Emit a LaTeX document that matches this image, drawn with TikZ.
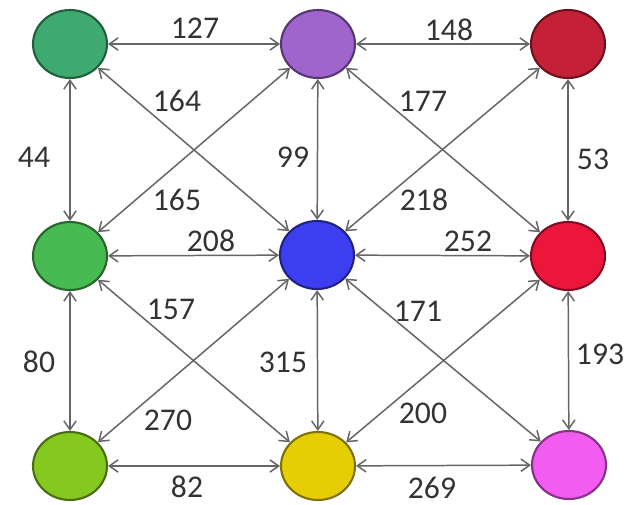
\documentclass[tikz,border=0pt]{standalone}
\usepackage{fontspec}
\setmainfont{Carlito}
\usetikzlibrary{arrows.meta,shapes.geometric,positioning}
\tikzset{every picture/.style={line width=0.75pt}}
\tikzset{
  city/.style={ellipse, draw, line width=1.2pt, minimum width=1.48cm, minimum height=1.36cm, inner sep=0pt},
  link/.style={draw=black!60, line width=0.85pt, {Straight Barb[length=5pt,width=7pt]}-{Straight Barb[length=5pt,width=7pt]}},
  lbl/.style={font=\fontsize{18}{20}\selectfont, text=black!80, inner sep=0pt}
}
\definecolor{cTL}{RGB}{62,170,112}
\definecolor{cTM}{RGB}{160,100,205}
\definecolor{cTR}{RGB}{196,32,56}
\definecolor{cML}{RGB}{72,186,82}
\definecolor{cMM}{RGB}{60,62,240}
\definecolor{cMR}{RGB}{236,22,60}
\definecolor{cBL}{RGB}{132,200,32}
\definecolor{cBM}{RGB}{230,206,4}
\definecolor{cBR}{RGB}{242,92,240}

\begin{document}
\begin{tikzpicture}[x=0.02cm, y=-0.02cm]
    \useasboundingbox (0,0) rectangle (625,504);
    % cities
    \node[city, fill=cTL, draw=cTL!55!black] (tl) at (70,44) {};
    \node[city, fill=cTM, draw=cTM!55!black] (tm) at (318,44) {};
    \node[city, fill=cTR, draw=cTR!55!black] (tr) at (568,44) {};
    \node[city, fill=cML, draw=cML!55!black] (ml) at (70,256) {};
    \node[city, fill=cMM, draw=cMM!55!black] (mm) at (317,255) {};
    \node[city, fill=cMR, draw=cMR!55!black] (mr) at (568,256) {};
    \node[city, fill=cBL, draw=cBL!55!black] (bl) at (70,466) {};
    \node[city, fill=cBM, draw=cBM!55!black] (bm) at (318,466) {};
    \node[city, fill=cBR, draw=cBR!55!black] (br) at (569,465) {};
    % rows
    \draw[link] (tl) -- (tm);
    \draw[link] (tm) -- (tr);
    \draw[link] (ml) -- (mm);
    \draw[link] (mm) -- (mr);
    \draw[link] (bl) -- (bm);
    \draw[link] (bm) -- (br);
    % columns
    \draw[link] (tl) -- (ml);
    \draw[link] (ml) -- (bl);
    \draw[link] (tm) -- (mm);
    \draw[link] (mm) -- (bm);
    \draw[link] (tr) -- (mr);
    \draw[link] (mr) -- (br);
    % diagonals
    \draw[link] (tl) -- (mm);
    \draw[link] (ml) -- (tm);
    \draw[link] (tm) -- (mr);
    \draw[link] (mm) -- (tr);
    \draw[link] (ml) -- (bm);
    \draw[link] (bl) -- (mm);
    \draw[link] (mm) -- (br);
    \draw[link] (bm) -- (mr);
    % distances
    \node[lbl] (d127) at (195,28) {127};
    \node[lbl] (d148) at (449,30) {148};
    \node[lbl] (d44)  at (34,157) {44};
    \node[lbl] (d164) at (177,101) {164};
    \node[lbl] (d99)  at (293,157) {99};
    \node[lbl] (d165) at (177,200) {165};
    \node[lbl] (d177) at (423,101) {177};
    \node[lbl] (d53)  at (593,159) {53};
    \node[lbl] (d218) at (424,200) {218};
    \node[lbl] (d208) at (211,241) {208};
    \node[lbl] (d252) at (468,241) {252};
    \node[lbl] (d157) at (171,309) {157};
    \node[lbl] (d80)  at (39,362) {80};
    \node[lbl] (d315) at (283,362) {315};
    \node[lbl] (d270) at (168,420) {270};
    \node[lbl] (d171) at (418,311) {171};
    \node[lbl] (d193) at (600,354) {193};
    \node[lbl] (d200) at (423,413) {200};
    \node[lbl] (d82)  at (187,487) {82};
    \node[lbl] (d269) at (432,488) {269};
\end{tikzpicture}
\end{document}
